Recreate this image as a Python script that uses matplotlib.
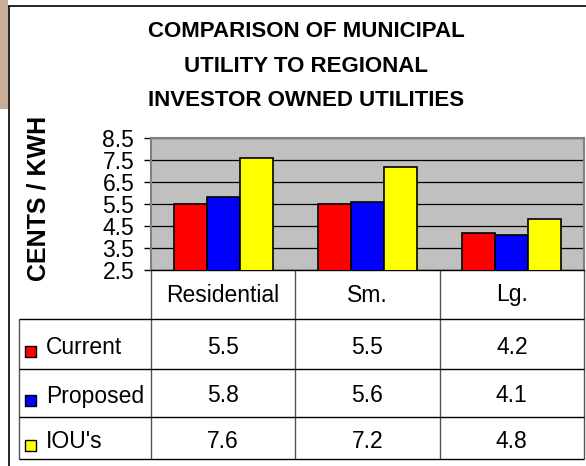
import matplotlib
matplotlib.use("Agg")
import matplotlib.pyplot as plt
import numpy as np
from matplotlib.patches import Rectangle

# chart data
categories = ["Residential", "Sm.", "Lg."]
series_names = ["Current", "Proposed", "IOU's"]
current = [5.5, 5.5, 4.2]
proposed = [5.8, 5.6, 4.1]
ious = [7.6, 7.2, 4.8]
yticks = [2.5, 3.5, 4.5, 5.5, 6.5, 7.5, 8.5]
title_lines = ["COMPARISON OF MUNICIPAL", "UTILITY TO REGIONAL",
               "INVESTOR OWNED UTILITIES"]
ylabel = "CENTS / KWH"

series = [current, proposed, ious]
colors = ["#ff0000", "#0000ff", "#ffff00"]

plt.rcParams["font.family"] = ["Liberation Sans", "DejaVu Sans"]

W, H = 586, 466
fig = plt.figure(figsize=(W / 100, H / 100), dpi=100)

# pixel-space layer for frame, title and data table
bg = fig.add_axes([0, 0, 1, 1])
bg.set_xlim(0, W)
bg.set_ylim(H, 0)
bg.axis("off")

bg.add_patch(Rectangle((0, 0), 8, 109, facecolor="#c9ad96", edgecolor="none"))
bg.vlines(8.5, 6, H, color="black", lw=1.2)
bg.hlines(6, 8, W, color="black", lw=1.2)

for i, line in enumerate(title_lines):
    bg.text(306, 37 + i * 34.5, line, ha="center", va="baseline",
            fontsize=16, fontweight="bold")

bg.text(39, 198, ylabel, rotation=90, ha="center", va="center",
        fontsize=18, fontweight="bold")

# plot area
left, right, top, bottom = 151, 584, 138, 270
ax = fig.add_axes([left / W, 1 - bottom / H, (right - left) / W, (bottom - top) / H])
ax.set_facecolor("#c0c0c0")
x = np.arange(len(categories))
w = 0.228
for i, vals in enumerate(series):
    ax.bar(x + (i - 1) * w, vals, w, color=colors[i], edgecolor="black",
           linewidth=1.2, zorder=3)
ax.set_xlim(-0.5, len(categories) - 0.5)
ax.set_ylim(yticks[0], yticks[-1])
ax.set_yticks(yticks)
ax.set_yticklabels([f"{t:.1f}" for t in yticks])
ax.set_xticks([])
ax.yaxis.grid(True, color="black", lw=0.9)
ax.set_axisbelow(True)
ax.tick_params(axis="y", direction="out", length=5, width=1, pad=7,
               labelsize=16.5, color="black")
for s in ["left", "top", "right"]:
    ax.spines[s].set_color("#808080")
    ax.spines[s].set_linewidth(1.5)
ax.spines["bottom"].set_color("black")
ax.spines["bottom"].set_linewidth(1)

# data table
col_edges = np.linspace(left, right, len(categories) + 1)
col_centers = (col_edges[:-1] + col_edges[1:]) / 2
row_edges = [319, 369, 417, 459]
row_centers = [(row_edges[k] + row_edges[k + 1]) / 2 for k in range(3)]
tab_left = 19
fs = 16.5

bg.vlines(col_edges, bottom, row_edges[-1], color="#555555", lw=1)
bg.vlines(tab_left, row_edges[0], row_edges[-1], color="#555555", lw=1)
bg.hlines(row_edges, tab_left, right, color="black", lw=1)

for cx, cat in zip(col_centers, categories):
    bg.text(cx, 295, cat, ha="center", va="center", fontsize=fs)

for r, (name, vals) in enumerate(zip(series_names, series)):
    cy = row_centers[r] + 3
    bg.add_patch(Rectangle((25, cy - 1), 11, 11, facecolor=colors[r],
                           edgecolor="black", lw=1))
    bg.text(46, cy, name, ha="left", va="center", fontsize=fs)
    for cx, v in zip(col_centers, vals):
        bg.text(cx, cy, f"{v:.1f}", ha="center", va="center", fontsize=fs)

fig.savefig("out.png", dpi=100)
plt.close(fig)
